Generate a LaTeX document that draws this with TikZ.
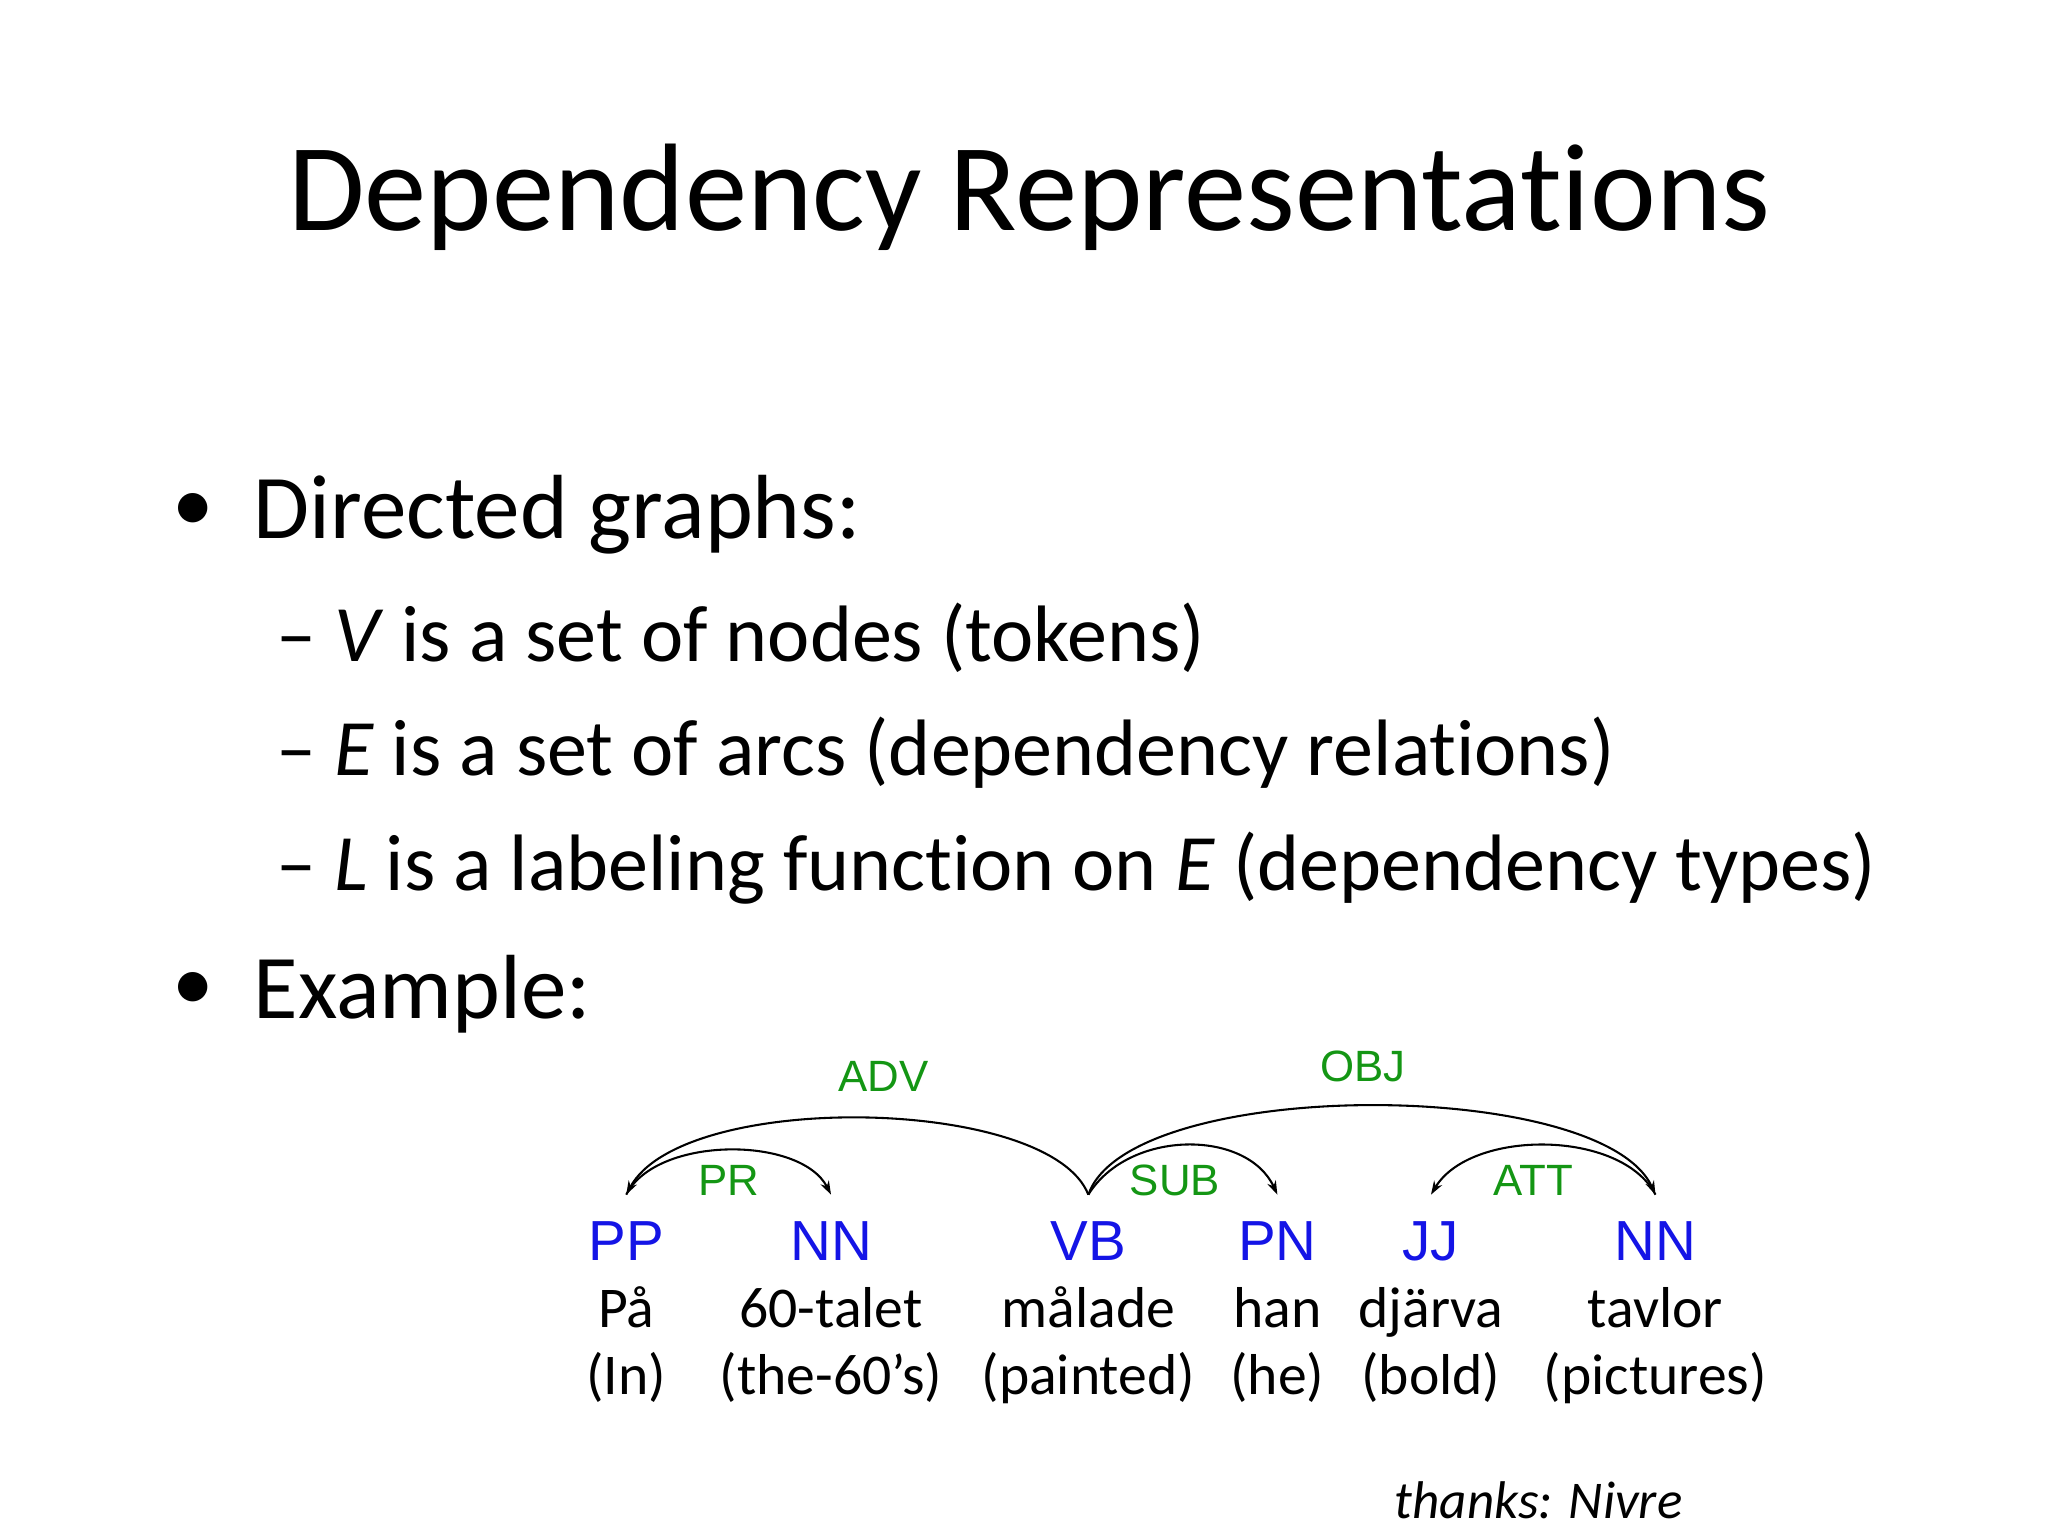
\documentclass[tikz,border=0pt]{standalone}
\usepackage{fontspec}
\setmainfont[Ligatures=NoCommon]{Carlito}
\newfontfamily\arialf{Liberation Sans}
\usetikzlibrary{arrows.meta}
\definecolor{tagblue}{RGB}{20,20,230}
\definecolor{lblgreen}{RGB}{20,150,20}
\begin{document}
\begin{tikzpicture}[x=0.02cm,y=-0.02cm,
  txt/.style={anchor=west,inner sep=0},
  tagn/.style={font=\arialf\fontsize{24.5}{30}\selectfont,text=tagblue,inner sep=0,anchor=base},
  wordn/.style={font=\fontsize{25}{30}\selectfont,inner sep=0,anchor=base},
  lbl/.style={font=\arialf\fontsize{19}{22}\selectfont,text=lblgreen,inner sep=0},
  arc/.style={draw=black,line width=0.9pt,-{Stealth[length=6pt,width=4pt]}}]
\useasboundingbox (0,0) rectangle (1560,1170);
\node[inner sep=0,font=\fontsize{54}{58}\selectfont] (title) at (784,150) {Dependency Representations};
\node[inner sep=0,font=\fontsize{36}{40}\selectfont] (b1) at (147,390) {•};
\node[txt,font=\fontsize{39.5}{42}\selectfont] (t1) at (193,392) {Directed graphs:};
\node[txt,font=\fontsize{34.7}{38}\selectfont] (s1) at (210,486) {– \textit{V} is a set of nodes (tokens)};
\node[txt,font=\fontsize{34.7}{38}\selectfont] (s2) at (210,573) {– \textit{E} is a set of arcs (dependency relations)};
\node[txt,font=\fontsize{34.7}{38}\selectfont] (s3) at (210,661) {– \textit{L} is a labeling function on \textit{E} (dependency types)};
\node[inner sep=0,font=\fontsize{36}{40}\selectfont] (b2) at (147,755) {•};
\node[txt,font=\fontsize{39.5}{42}\selectfont] (t2) at (193,757) {Example:};
% tags
\foreach \n/\x/\t/\w/\g in {a/477/PP/På/(In), b/633/NN/60-talet/(the-60’s), c/829/VB/målade/(painted), d/973/PN/han/(he), e/1090/JJ/djärva/(bold), f/1261/NN/tavlor/(pictures)}{
  \node[tagn] (tag\n) at (\x,960) {\t};
  \node[wordn] (w\n) at (\x,1011) {\w};
  \node[wordn] (g\n) at (\x,1062) {\g};
  \coordinate (p\n) at (\x,910);
}
\draw[arc] (pc) .. controls (800,835) and (520,830) .. (pa);
\draw[arc] (pa) .. controls (500,865) and (610,865) .. (pb);
\draw[arc] (pc) .. controls (860,820) and (1220,820) .. (pf);
\draw[arc] (pc) .. controls (860,860) and (950,860) .. (pd);
\draw[arc] (pf) .. controls (1235,860) and (1120,860) .. (pe);
\node[lbl] (lADV) at (673,820) {ADV};
\node[lbl] (lPR) at (555,899) {PR};
\node[lbl] (lOBJ) at (1038,812) {OBJ};
\node[lbl] (lSUB) at (895,899) {SUB};
\node[lbl] (lATT) at (1168,899) {ATT};
\node[inner sep=0,font=\itshape\fontsize{23}{28}\selectfont] (thx) at (1172,1143) {thanks: Nivre};
\end{tikzpicture}
\end{document}
